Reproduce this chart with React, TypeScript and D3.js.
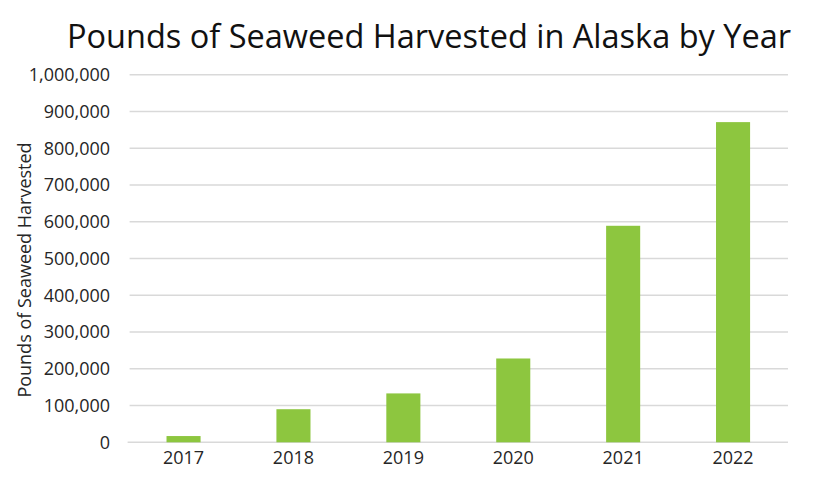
import React from "react";
import * as d3 from "d3";

const years = ["2017", "2018", "2019", "2020", "2021", "2022"];
const pounds = [17000, 90000, 133000, 228000, 589000, 871000];
const yTicks = [0, 100000, 200000, 300000, 400000, 500000, 600000, 700000, 800000, 900000, 1000000];

const width = 830;
const height = 486;
const margin = { top: 74.7, right: 42, bottom: 43.7, left: 128.6 };
const font = "'Open Sans', 'Noto Sans', sans-serif";

const App: React.FC = () => {
  const innerW = width - margin.left - margin.right;
  const innerH = height - margin.top - margin.bottom;

  const x = d3.scaleBand<string>().domain(years).range([0, innerW]).paddingInner(0.69).paddingOuter(0.345);
  const y = d3.scaleLinear().domain([0, 1000000]).range([innerH, 0]);
  const fmt = d3.format(",");

  return (
    <svg
      width={width}
      height={height}
      style={{ position: "absolute", left: 0, top: 0, background: "#fff" }}
    >
      <text x={429} y={48} textAnchor="middle" fontFamily={font} fontSize={32.5} fill="#111">
        Pounds of Seaweed Harvested in Alaska by Year
      </text>
      <g transform={`translate(${margin.left},${margin.top})`}>
        {yTicks.map((t) => (
          <g key={t}>
            <line x1={t === 0 ? -1 : 1} x2={innerW} y1={y(t)} y2={y(t)} stroke="#d9d9d9" strokeWidth={1.5} />
            <text x={-18.5} y={y(t)} dy="0.36em" textAnchor="end" fontFamily={font} fontSize={18} fill="#262626">
              {fmt(t)}
            </text>
          </g>
        ))}
        {years.map((yr, i) => (
          <rect
            key={yr}
            x={x(yr)}
            y={y(pounds[i])}
            width={x.bandwidth()}
            height={innerH - y(pounds[i])}
            fill="#8dc63f"
          />
        ))}
        {years.map((yr) => (
          <text
            key={yr}
            x={(x(yr) ?? 0) + x.bandwidth() / 2}
            y={innerH + 22}
            textAnchor="middle"
            fontFamily={font}
            fontSize={18}
            fill="#262626"
          >
            {yr}
          </text>
        ))}
      </g>
      <text
        transform={`translate(31,270) rotate(-90)`}
        textAnchor="middle"
        fontFamily={font}
        fontSize={18}
        fill="#262626"
      >
        Pounds of Seaweed Harvested
      </text>
    </svg>
  );
};

export default App;
